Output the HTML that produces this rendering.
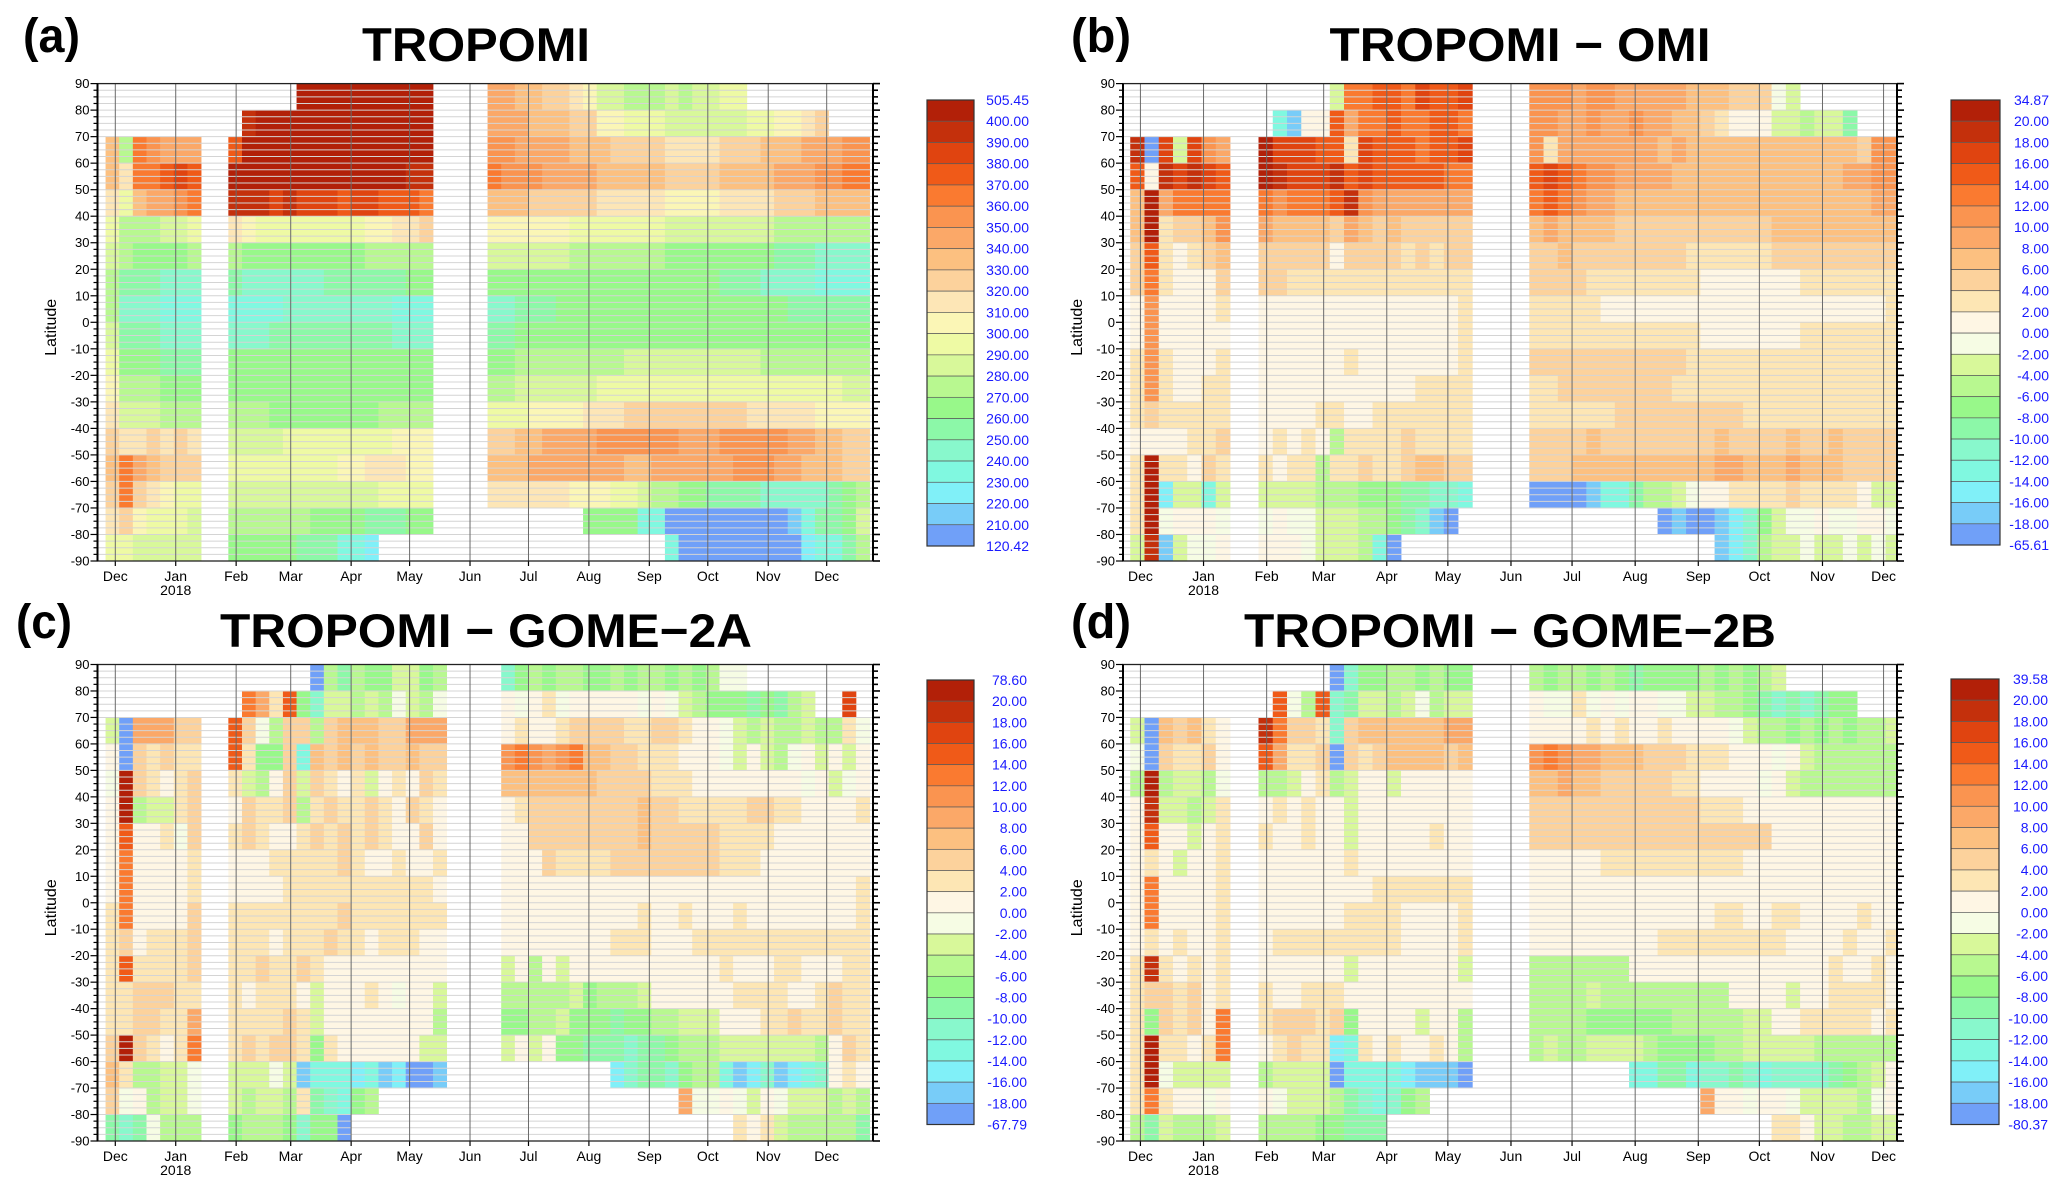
<!DOCTYPE html>
<html><head><meta charset="utf-8"><title>TROPOMI comparison</title>
<style>
html,body{margin:0;padding:0;background:#fff;}
svg{display:block;font-family:"Liberation Sans",Arial,sans-serif;}
</style></head>
<body>
<svg id="fig" width="2067" height="1192" viewBox="0 0 2067 1192" xmlns="http://www.w3.org/2000/svg">
<rect x="0" y="0" width="2067" height="1192" fill="#ffffff"/>
</svg>
<script>
// ---------- shared axis data ----------
const monthLabels = ['Dec','Jan','Feb','Mar','Apr','May','Jun','Jul','Aug','Sep','Oct','Nov','Dec'];
const monthDays = [9,40,71,99,130,160,191,221,252,283,313,344,374]; // days since 2017-11-22
const latTicks = [90,80,70,60,50,40,30,20,10,0,-10,-20,-30,-40,-50,-60,-70,-80,-90];
const rowTops = [90,80,70,60,50,40,30,20,10,0,-10,-20,-30,-40,-50,-60,-70,-80];
const firstWeekDay = 4;
const weekDays = 7;
const LEVELS = '0123456789ABCDEFGHIJK';

// ---------- colour bar bounds / tick labels ----------
const aBounds = [120.42,210,220,230,240,250,260,270,280,290,300,310,320,330,340,350,360,370,380,390,400,505.45];
const bBounds = [-65.61,-18,-16,-14,-12,-10,-8,-6,-4,-2,0,2,4,6,8,10,12,14,16,18,20,34.87];
const cBounds = [-67.79,-18,-16,-14,-12,-10,-8,-6,-4,-2,0,2,4,6,8,10,12,14,16,18,20,78.60];
const dBounds = [-80.37,-18,-16,-14,-12,-10,-8,-6,-4,-2,0,2,4,6,8,10,12,14,16,18,20,39.58];
const aTickLabels = ['505.45','400.00','390.00','380.00','370.00','360.00','350.00','340.00','330.00','320.00','310.00','300.00','290.00','280.00','270.00','260.00','250.00','240.00','230.00','220.00','210.00','120.42'];
const bTickLabels = ['34.87','20.00','18.00','16.00','14.00','12.00','10.00','8.00','6.00','4.00','2.00','0.00','-2.00','-4.00','-6.00','-8.00','-10.00','-12.00','-14.00','-16.00','-18.00','-65.61'];
const cTickLabels = ['78.60','20.00','18.00','16.00','14.00','12.00','10.00','8.00','6.00','4.00','2.00','0.00','-2.00','-4.00','-6.00','-8.00','-10.00','-12.00','-14.00','-16.00','-18.00','-67.79'];
const dTickLabels = ['39.58','20.00','18.00','16.00','14.00','12.00','10.00','8.00','6.00','4.00','2.00','0.00','-2.00','-4.00','-6.00','-8.00','-10.00','-12.00','-14.00','-16.00','-18.00','-80.37'];

const paletteAbs = ['#70a0f8','#78ccf8','#80f0f8','#80f8e0','#88f8cc','#8cf8a8','#98f88a','#b8f890','#d8f89a','#eefaa4','#fbf6b6','#fde6b6','#fcd29c','#fcc080','#fba868','#fa9450','#fa7a30','#f05a18','#e04410','#c4300c','#b22008'];
const paletteDiff = ['#70a0f8','#78ccf8','#80f0f8','#80f8e0','#88f8cc','#8cf8a8','#98f88a','#b8f890','#d8f89a','#f6fce4','#fef6e4','#fde6b4','#fcd29c','#fcc080','#fba868','#fa9450','#fa7a30','#f05a18','#e04410','#c4300c','#b22008'];

// ---------- series: level codes per 10-degree row, weekly columns, in 3 orbit blocks ----------
const aStarts = [0,9,28];
const aBlock1 = [".......",".......","D7GFEEE","DBGGHIH","B9DEEFG","9777889","8766667","7555444","7444333","8555444","9666555","A777666","B888777","CBBCBCB","DGEDCCC","CGCBA99","BCA9998","9988888"];
const aBlock2 = [".....KKKKKKKKKK",".JKKKKKKKKKKKKK","HKKKKKKKKKKKKKK","KKKKKKKKKKKKKJJ","JJJIJIIIHIIHHHG","BA99999999AABBC","766666666677777","544444455555566","333344444444333","444555555555444","666666666666666","666666666666666","777666666667777","888899999999AAA","99999999AABBBAA","888888888889999","777777666655566","66666555332...."];
const aBlock3 = ["EEDDCCBA88777878899.........","EEEDDDCCAA99988888899AABC...","FFEEEEDDDCCCCBBBBCCCDDDEEEFF","GFFFEEEEDDDDDCCCCDDDDEEEFFGG","DDDCCCCCBBBBBAAAABBBBCCCDDDD","AAAAAA9999999888888887777777","8888887777777666666665554444","6666666666666666655544443333","4455566666666666666666555555","5566666666666666666666666666","6677777777888888888877777777","7788888899999999999999999988","999AAAABBBCCCCCCCCCBBBBBAAAA","CCDDEEEEFFFFFFEEEFFFFFEEDDCC","DDDEEEEEEEDDEEEEEEFFFEEDDDCC","BBBBBBAAA9987766555544444567",".......666633000000000135568",".............300000000023357"];

const bStarts = [0,9,28];
const bBlock1 = [".......",".......","J0I8IFE","HAJIJIH","DKEGGGG","DKBCCDF","CHBABCD","CGBAAAC","AFAAAAB","AFAAAAA","BFBAAAB","BFBAABB","BCBBBBB","AAAABBC","BKBBACB","BK28838","BK9AAA9","8J1899A"];
const bBlock2 = [".....8GGHHGIHHI",".31AAHEGGHGGHHG","KIIIHHBIHHHGHHI","KJIIIJHIHHHHHGG","GFGGGHJFEEEEEEE","EDDDDCEDCDCCCCC","CCCCCACCCCBCBCC","CCBBBBBBBBBBBBB","AAAAAAAAAAAAAAB","AAAAAAAAAAAAAAB","AAAAAABAAAAAAAB","AAAAAAAAAAABBBB","AAAABBAABBBBBBB","ABABA7BBBBCBBBB","BABB7BBCBBCDDCC","888877766655443","9A998887765410.","AAA9888730....."];
const bBlock3 = ["FFFEFFEEEEEDDDCCC98.........","FFEEFEEFEEDDCBAAA887885.....","FBEEEEEEEDEDDDDDDDDDDDDCFF..","HIHGFFEEEEDDDDDDDDDDDDEEFF..","GHGFEEDDDDDDDDDDDDDDDDDDEE..","DEDDDDCCCCCCCCCCCDDDDDDDDD..","CCDCCCCCCCCBBBBBBCCCCCCCCC..","CCCCBBBBBBBBAAAAAAABBBBBBB..","BBBBBAAAAAAAAAAAAAAAAAAAAB..","BBBBBBBBBBBBAAAAAAABBBBBBB..","CCCCCCCCCCCBBBBBBBBBBBBBBB..","BBCCCCCCCCBBBBBBBBBBBBBBBB..","BBBBBBCCCCCCCCCBBBBBBBBBBB..","CCCCDCCCCCCCCDCCCCDCCDCCCC..","CCCDDDDDDDDDDEEDDDEDDDCCCC..","000013357789AABBBBCBBBBA88..",".........01001246899A99AA9..",".............1247889889898.."];

const cStarts = [0,9,29];
const cBlock1 = [".......",".......","80EEECC","A0CBCBB","9KCBABC","AK788BC","AHAAB9C","AGAAAAB","AGAAAAB","BGAAAAC","BCABBBC","BHBBBBC","BBCCCBB","BBCCBBE","CKCBABG","DB77889","C9A7889","5459777"];
const cBlock2 = ["......0757668867",".GEBH64887879879","HC97CC7CDDDCCEEE","HB66C3DCDCDCCDCC","B87AC8CBAB8ABACB","ACBBC7BCBBCBACBA","BCBAABCBCBCBAACA","AAABBBBBCBAABAAB","AAAABBBBBBBBBBBA","BBBBBBBBCBBBBBBB","BBBABBBCBBABBBAA","BBCBBCBAAAAAAAAA","BABBBA8AAABA9AA8","BBBBCB8AAAAAAAA7","BCBCCB6BAAAAAA88","8889813332312001","87887B54367.....","677764660......."];
const cBlock3 = ["467677667677676799.........","A9AB9AAAAA9A98766656578..I.","ABAABCCCCBBCCBAA987877877B9","FGFEFGDDCCBBBAAA98A879A8A8A","DDDDDDDCCCCBBBAAAAAAAA9A89A","ABCCCCCCCCDCCBBBBBCCBBAAAAB","AACCCCCCCCDCCCCCBBBBAAAAAAA","AAACBBBBCCCCCCCCBBBAAAAAAAA","AAAAAAAAAAAAAAAAAAAAAAAAAAB","AAAAAAAAAABAABAAABAAAAAAAAB","AAAAAAAABBBAAABBBBBBBBBBBBB","8A7A8AAAAAAAAAAABAAABBAAABB","77777867778AAAAAABBBBAABCBB","6677866656677888AAABBCBBCBB","8A8A66555455677788888887ACB","........2455467731241234ABA",".............E99A98A9888787",".................BAB8777775"];

const dStarts = [0,9,28];
const dBlock1 = [".......",".......","80DCDBA","90CBBCA","7K78879","AJ8878B","AHAA8AB","ABA8AAB","AGAAAAB","AGAAAAB","ABABAAB","BJBABAB","BCCBCAB","B6CBCAG","BKBBABG","BK98888","BGBAA9A","7587778"];
const dBlock2 = [".....0466776766",".H97H4588789788","JGCCB4CDDDDDDEE","HEBBC0CBCDDDDCD","778AB78AA8AAAAA","ABABAA8AAAAAAAA","BAABAA8AAAAABAA","AAAAAABAAAAAAAA","AAAAAAAABBBBBBB","AAAAAABBBBAAAAB","ABBBBBBBBBAAAAB","AAAAAA8AAAAAAA8","BAABBBAAAAAAAAA","BCCCBC6AAAA8AA7","ABCBB23BABAABA7","788880333321110","A98887543467...","777766555......"];
const dBlock3 = ["767767656666767678..........","A99B9A9AA99887765454566.....","AAAABABAABAAAA987767676778..","FGFEEDDDCCCBBBAAA9A8777777..","DDEDDCCCCCBBAAAA9A87777777..","CCCCCCCCCCCCBBBAAAAAAAAAAA..","CCCCCCCCCCCCCCCCCAAAAAAAAA..","AAAAABBBBBBBBBBAAAAAAAAAAA..","AAAAAAAAAAAAAAAAAAAAAAAAAA..","AAAAAAAAAAAAABBAABBAAAABAA..","AAAAAAAAABBBBBBBBBAAAABAAB..","7777777AAAAAAAAAAAAAABAABA..","77778777777777AAAA8AABBBBA..","77776666667777788AABBBBBAB..","78778888766667788888777777..",".......335534454344445678A..","............EAA9AA9888879A..",".................BBA887788.."];

// ---------- layout ----------
const panels = [
 {key:'a', blocks:[aBlock1,aBlock2,aBlock3], starts:aStarts, bounds:aBounds, ticks:aTickLabels, pal:paletteAbs,
  x0:97.76, ppd:1.949, L:97.5, R:873, T:83.6, B:561, cbx:927, cbw:47, cbt:100, cbb:546, cblx:1029,
  title:'TROPOMI', tx:476, ty:61, tw:228, lab:'(a)', labx:23, laby:52, labw:57, latx:51},
 {key:'b', blocks:[bBlock1,bBlock2,bBlock3], starts:bStarts, bounds:bBounds, ticks:bTickLabels, pal:paletteDiff,
  x0:1122.1, ppd:2.036, L:1123, R:1897, T:83.6, B:561, cbx:1951, cbw:49, cbt:100, cbb:545, cblx:2049,
  title:'TROPOMI \u2212 OMI', tx:1520, ty:61, tw:381, lab:'(b)', labx:1071, laby:52, labw:60, latx:1077},
 {key:'c', blocks:[cBlock1,cBlock2,cBlock3], starts:cStarts, bounds:cBounds, ticks:cTickLabels, pal:paletteDiff,
  x0:97.76, ppd:1.949, L:97.5, R:873, T:664.5, B:1141, cbx:927, cbw:47, cbt:680, cbb:1124.5, cblx:1027,
  title:'TROPOMI \u2212 GOME\u22122A', tx:486, ty:647, tw:532, lab:'(c)', labx:16, laby:638, labw:56, latx:51},
 {key:'d', blocks:[dBlock1,dBlock2,dBlock3], starts:dStarts, bounds:dBounds, ticks:dTickLabels, pal:paletteDiff,
  x0:1122.1, ppd:2.036, L:1123, R:1897, T:664.5, B:1141, cbx:1951, cbw:48, cbt:679, cbb:1124.5, cblx:2048,
  title:'TROPOMI \u2212 GOME\u22122B', tx:1510, ty:647, tw:532, lab:'(d)', labx:1071, laby:638, labw:60, latx:1077}
];

const NS = 'http://www.w3.org/2000/svg';
const svg = document.getElementById('fig');
function mk(tag, attrs, parent){
  const el = document.createElementNS(NS, tag);
  for (const k in attrs) el.setAttribute(k, attrs[k]);
  (parent || svg).appendChild(el);
  return el;
}
function codeValue(ch, bounds){
  const i = LEVELS.indexOf(ch);
  return (bounds[i] + bounds[i+1]) / 2;
}
function binOf(v, bounds){
  for (let i = 0; i < bounds.length - 1; i++) if (v <= bounds[i+1]) return i;
  return bounds.length - 2;
}

const defs = mk('defs', {});
panels.forEach(p => {
  const xs = d => p.x0 + d * p.ppd;
  const ys = lat => p.T + (90 - lat) / 180 * (p.B - p.T);

  const cp = mk('clipPath', {id:'clip-' + p.key}, defs);
  mk('rect', {x:p.L, y:p.T, width:p.R - p.L, height:p.B - p.T}, cp);

  const g = mk('g', {'clip-path':'url(#clip-' + p.key + ')'});
  
  

  p.blocks.forEach((block, k) => {
    block.forEach((row, r) => {
      for (let j = 0; j < row.length; j++) {
        const ch = row[j];
        if (LEVELS.indexOf(ch) < 0) continue;
        const w = p.starts[k] + j;
        const d0 = firstWeekDay + w * weekDays;
        const v = codeValue(ch, p.bounds);
        const x0 = xs(d0), x1 = xs(d0 + weekDays);
        const y0 = ys(rowTops[r]), y1 = ys(rowTops[r] - 10);
        const c = mk('rect', {x:x0.toFixed(2), y:y0.toFixed(2), width:(x1 - x0 + 0.4).toFixed(2), height:(y1 - y0 + 0.4).toFixed(2), fill:p.pal[binOf(v, p.bounds)]}, g);
        
        
      }
    });
  });

  for (let lat = -87.5; lat < 90; lat += 2.5) {
    const y = ys(lat);
    const gl = mk('line', {x1:p.L, x2:p.R, y1:y, y2:y, stroke:'#d4d4d4', 'stroke-width':1});
    
    
  }
  monthDays.forEach((md, i) => {
    const x = xs(md);
    if (x < p.L || x > p.R) return;
    const ml = mk('line', {x1:x, x2:x, y1:p.T, y2:p.B, stroke:'#6a6a6a', 'stroke-width':1});
    
    
    const tk = mk('line', {x1:x, x2:x, y1:p.B, y2:p.B + 5, stroke:'#000', 'stroke-width':1.2});
    
    
    const tl = mk('text', {x:x, y:p.B + 20, 'font-size':14, 'text-anchor':'middle', fill:'#000'});
    tl.textContent = monthLabels[i];
    
    
    if (i === 1) {
      const yr = mk('text', {x:x, y:p.B + 34, 'font-size':14, 'text-anchor':'middle', fill:'#000'});
      yr.textContent = '2018';
      
      
    }
  });

  const fr = mk('rect', {x:p.L, y:p.T, width:p.R - p.L, height:p.B - p.T, fill:'none', stroke:'#222', 'stroke-width':1.3});
  
  
  const la = mk('line', {x1:p.L, x2:p.L, y1:p.T, y2:p.B, stroke:'#000', 'stroke-width':2});
  
  
  const ra = mk('line', {x1:p.R, x2:p.R, y1:p.T, y2:p.B, stroke:'#000', 'stroke-width':2});
  
  

  for (let lat = -90; lat <= 90; lat += 2.5) {
    const y = ys(lat);
    const major = (lat % 10 === 0);
    const t1 = mk('line', {x1:p.L - (major ? 7 : 4), x2:p.L, y1:y, y2:y, stroke:'#000', 'stroke-width':1.2});
    
    
    const t2 = mk('line', {x1:p.R, x2:p.R + (major ? 7 : 5), y1:y, y2:y, stroke:'#000', 'stroke-width':1.6});
    
    
  }
  latTicks.forEach(lat => {
    const t = mk('text', {x:p.L - 8, y:ys(lat) + 4.5, 'font-size':13, 'text-anchor':'end', fill:'#000'});
    t.textContent = String(lat);
    
    
  });
  const yc = (p.T + p.B) / 2;
  const yt = mk('text', {x:p.latx, y:yc, 'font-size':16, 'text-anchor':'middle', transform:'rotate(-90 ' + (p.latx + 5) + ' ' + yc + ')', fill:'#000'});
  yt.textContent = 'Latitude';
  
  

  const ti = mk('text', {x:p.tx, y:p.ty, 'font-size':47, 'font-weight':'bold', 'text-anchor':'middle', textLength:p.tw, lengthAdjust:'spacingAndGlyphs', fill:'#000'});
  ti.textContent = p.title;
  
  
  const lb = mk('text', {x:p.labx, y:p.laby, 'font-size':48, 'font-weight':'bold', textLength:p.labw, lengthAdjust:'spacingAndGlyphs', fill:'#000'});
  lb.textContent = p.lab;
  
  

  const n = p.bounds.length - 1;
  const ch = (p.cbb - p.cbt) / n;
  for (let i = 0; i < n; i++) {
    const bi = n - 1 - i;
    const cell = mk('rect', {x:p.cbx, y:(p.cbt + i * ch).toFixed(2), width:p.cbw, height:ch.toFixed(2), fill:p.pal[bi], stroke:'#5a5a5a', 'stroke-width':0.7});
    
    
  }
  const cbf = mk('rect', {x:p.cbx, y:p.cbt, width:p.cbw, height:p.cbb - p.cbt, fill:'none', stroke:'#333', 'stroke-width':1.2});
  
  
  p.ticks.forEach((lbl, i) => {
    const t = mk('text', {x:p.cblx, y:(p.cbt + i * ch + 5).toFixed(2), 'font-size':14, 'text-anchor':'end', fill:'#1a1aff'});
    t.textContent = lbl;
    
    
  });
});
</script>
</body></html>
